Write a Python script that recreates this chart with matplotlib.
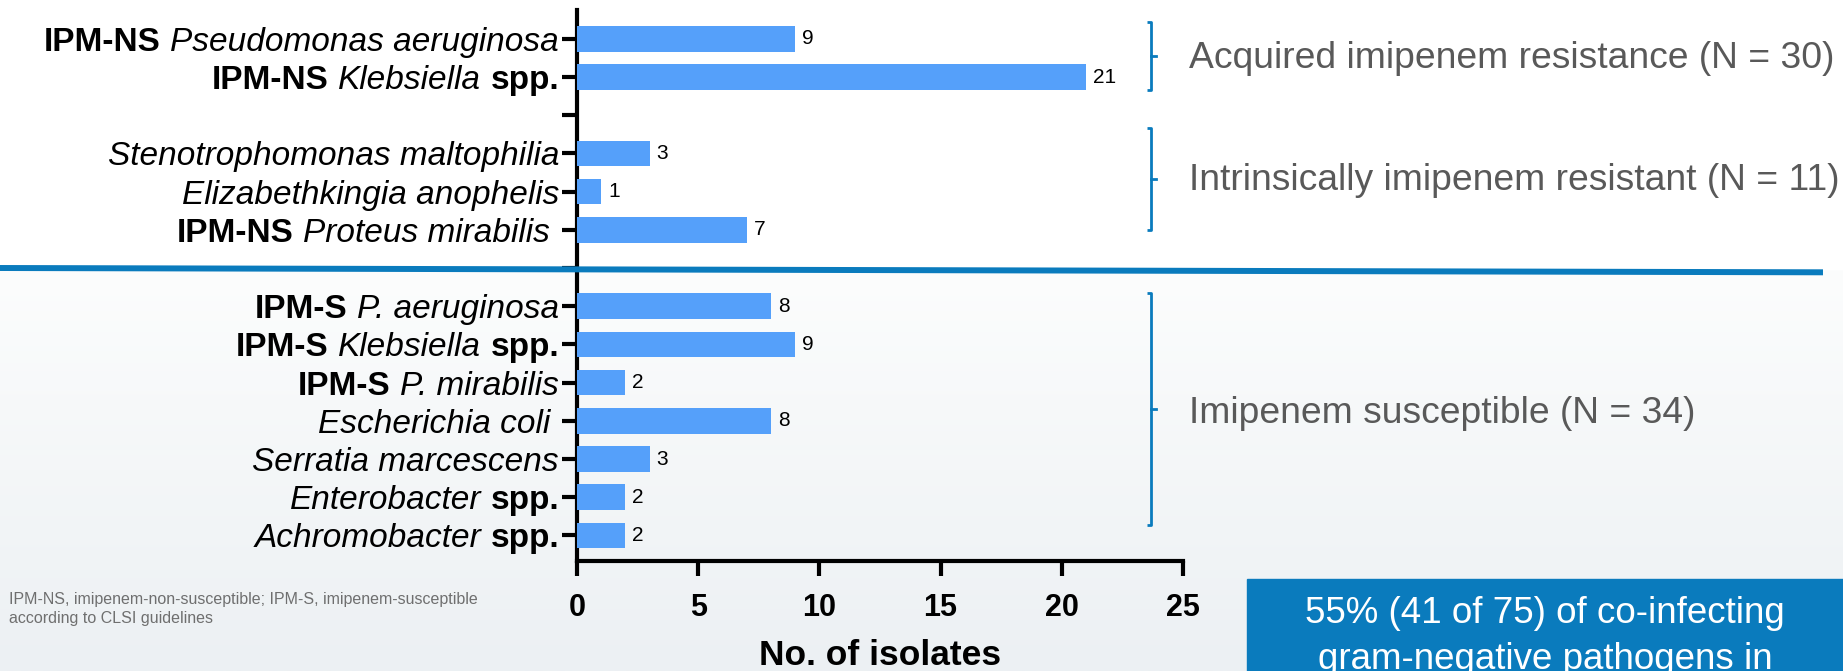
import numpy as np
import matplotlib
matplotlib.use("Agg")
import matplotlib.pyplot as plt
from matplotlib.lines import Line2D
from matplotlib.patches import Rectangle

plt.rcParams["font.family"] = ["Liberation Sans", "DejaVu Sans"]

# ---- data -------------------------------------------------------------
# Organism labels are lists of (text, style) segments: "b" bold, "i" italic
acquired_labels = [
    [("IPM-NS", "b"), ("Pseudomonas aeruginosa", "i")],
    [("IPM-NS", "b"), ("Klebsiella", "i"), ("spp.", "b")],
]
acquired_counts = [9, 21]

intrinsic_labels = [
    [("Stenotrophomonas maltophilia", "i")],
    [("Elizabethkingia anophelis", "i")],
    [("IPM-NS", "b"), ("Proteus mirabilis ", "i")],
]
intrinsic_counts = [3, 1, 7]

susceptible_labels = [
    [("IPM-S", "b"), ("P. aeruginosa", "i")],
    [("IPM-S", "b"), ("Klebsiella", "i"), ("spp.", "b")],
    [("IPM-S", "b"), ("P. mirabilis", "i")],
    [("Escherichia coli ", "i")],
    [("Serratia marcescens", "i")],
    [("Enterobacter", "i"), ("spp.", "b")],
    [("Achromobacter", "i"), ("spp.", "b")],
]
susceptible_counts = [8, 9, 2, 8, 3, 2, 2]

group_titles = [
    "Acquired imipenem resistance (N = 30)",
    "Intrinsically imipenem resistant (N = 11)",
    "Imipenem susceptible (N = 34)",
]
x_ticks = [0, 5, 10, 15, 20, 25]
x_label = "No. of isolates"
footnote = ("IPM-NS, imipenem-non-susceptible; IPM-S, imipenem-susceptible\n"
            "according to CLSI guidelines")
callout_lines = ["55% (41 of 75) of co-infecting", "gram-negative pathogens in"]

# ---- layout / style ---------------------------------------------------
BAR = "#55A0FA"
ACCENT = "#0A7BBD"
GREY = "#595959"
LBL_FS = 24
W, H = 1843, 671

# rows: groups separated by one empty slot
groups = [(acquired_labels, acquired_counts),
          (intrinsic_labels, intrinsic_counts),
          (susceptible_labels, susceptible_counts)]
row_pos, row_lab, row_val = [], [], []
pos = 0
for labs, vals in groups:
    for lab, v in zip(labs, vals):
        row_pos.append(pos); row_lab.append(lab); row_val.append(v)
        pos += 1
    pos += 1
n_slots = pos - 1  # slots 0 .. n_slots-1

# bracket extents around each group (in row units) and title rows
bracket_spans = [(-0.45, 1.34), (2.33, 5.0), (6.65, 12.73)]
title_rows = [0.51, 3.70, 9.81]

fig = plt.figure(figsize=(W / 100, H / 100), dpi=100)
fig.patch.set_facecolor("white")

# soft grey gradient in the lower panel
bg = fig.add_axes([0, 0, 1, 1 - 270 / H], zorder=-5)
grad = np.linspace(0, 1, 256)[:, None]
top_c = np.array([252, 253, 253]) / 255
bot_c = np.array([236, 240, 243]) / 255
img = top_c[None, None, :] * (1 - grad[..., None]) + bot_c[None, None, :] * grad[..., None]
bg.imshow(np.repeat(img, 2, axis=1), aspect="auto", extent=[0, 1, 0, 1])
bg.set_axis_off()

ax = fig.add_axes([577 / W, 1 - 560.7 / H, (1183 - 577) / W, (560.7 - 10) / H])
ax.set_facecolor("none")

bars = ax.barh(row_pos, row_val, height=0.67, color=BAR, zorder=3)
ax.bar_label(bars, labels=[str(v) for v in row_val], padding=5, fontsize=15)

ax.set_xticks(x_ticks)
ax.set_xticklabels([str(t) for t in x_ticks], fontsize=22, fontweight="bold")
ax.set_yticks(range(n_slots))
ax.set_yticklabels([])
ax.set_xlim(0, 25)
ax.set_ylim(13.66, -0.755)
for side in ("top", "right"):
    ax.spines[side].set_visible(False)
for side in ("left", "bottom"):
    ax.spines[side].set_linewidth(3)
ax.tick_params(axis="both", length=11, width=3, color="black")
ax.tick_params(axis="x", pad=12)

ax.text(0.5, -0.172, x_label, transform=ax.transAxes, ha="center", va="center",
        fontsize=25.5, fontweight="bold")

# mixed-style organism labels, assembled right-to-left
fig.canvas.draw()
rend = fig.canvas.get_renderer()


def seg_width(s, style):
    t = fig.text(0, 0, s, fontsize=LBL_FS,
                 fontweight="bold" if style == "b" else "normal",
                 fontstyle="italic" if style == "i" else "normal")
    w = t.get_window_extent(rend).width
    t.remove()
    return w


space_w = seg_width("n n", "n") - seg_width("nn", "n")
for p, segs in zip(row_pos, row_lab):
    x_off = -18.0
    for text, style in reversed(segs):
        core = text.rstrip()
        x_off -= (len(text) - len(core)) * space_w
        ax.annotate(core, xy=(0, p), xycoords=ax.get_yaxis_transform(),
                    xytext=(x_off, 0), textcoords="offset pixels",
                    ha="right", va="center_baseline", fontsize=LBL_FS,
                    fontweight="bold" if style == "b" else "normal",
                    fontstyle="italic" if style == "i" else "normal",
                    annotation_clip=False)
        x_off -= seg_width(core, style) + space_w

# group brackets and titles
bx, hook = 23.67, 0.17
for (y0, y1), ty, title in zip(bracket_spans, title_rows, group_titles):
    ym = (y0 + y1) / 2
    ax.plot([bx - hook, bx, bx, bx - hook], [y0, y0, y1, y1], color=ACCENT,
            lw=2, clip_on=False, solid_capstyle="butt", zorder=4)
    ax.plot([bx, bx + hook * 1.3], [ym, ym], color=ACCENT, lw=2,
            clip_on=False, zorder=4)
    ax.annotate(title, xy=(1, ty), xycoords=ax.get_yaxis_transform(),
                xytext=(6, 0), textcoords="offset pixels", ha="left",
                va="center", fontsize=26.8, color=GREY, annotation_clip=False)

# separator line between resistant and susceptible panels
fig.add_artist(Line2D([0, 1820 / W], [1 - 268 / H, 1 - 272.3 / H],
                      color=ACCENT, lw=4.3, zorder=10))

# footnote
fig.text(9 / W, 1 - 609 / H, footnote, ha="left", va="center",
         fontsize=11.5, color="#6f6f6f", linespacing=1.4)

# call-out box
fig.add_artist(Rectangle((1247 / W, 0), 1 - 1247 / W, (H - 579) / H,
                         color=ACCENT, zorder=10))
cx = (1247 + 1843) / 2 / W
fig.text(cx, 1 - 623 / H, callout_lines[0], ha="center", va="baseline",
         fontsize=26.5, color="white", zorder=11)
fig.text(cx, 1 - 669 / H, callout_lines[1], ha="center", va="baseline",
         fontsize=26.5, color="white", zorder=11)

fig.savefig("out.png", dpi=100)
